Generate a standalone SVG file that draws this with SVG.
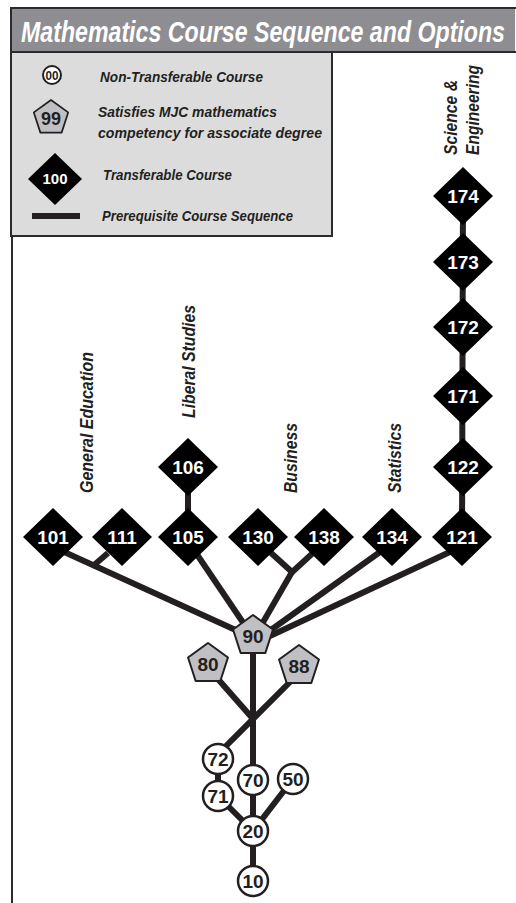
<svg xmlns="http://www.w3.org/2000/svg" xmlns:xlink="http://www.w3.org/1999/xlink" width="516" height="903" viewBox="0 0 516 903">
<style>
.lbl{font-family:"Liberation Sans",Arial,sans-serif;font-weight:bold;font-style:italic;fill:#231f20}
.dt{font-family:"Liberation Sans",Arial,sans-serif;font-weight:bold;fill:#fff;font-size:19px;text-anchor:middle}
.nt{font-family:"Liberation Sans",Arial,sans-serif;font-weight:bold;fill:#231f20;font-size:19px;text-anchor:middle}
.dia{fill:#000}
.pent{fill:#c0c0c4;stroke:#231f20;stroke-width:2;stroke-linejoin:round}
.circ{fill:#fff;stroke:#231f20;stroke-width:2.5}
.ln{stroke:#231f20;stroke-width:6;fill:none;stroke-linecap:butt}
</style>
<defs>
<path id="dia" d="M0,-29 L30,0 L0,29 L-30,0 Z"/>
<path id="pent" d="M0,-21 L19.97,-6.49 L12.34,16.99 L-12.34,16.99 L-19.97,-6.49 Z"/>
</defs>
<rect width="516" height="903" fill="#fff"/>
<g id="frame">
<rect x="11" y="8" width="504" height="44" fill="#8e8d92"/>
<path d="M516,8 H11 V52 H516" fill="none" stroke="#2b2b2b" stroke-width="2"/>
<text x="21" y="42" font-family="'Liberation Sans',Arial,sans-serif" font-weight="bold" font-style="italic" font-size="29" fill="#fff" textLength="484" lengthAdjust="spacingAndGlyphs">Mathematics Course Sequence and Options</text>
<rect x="11" y="52" width="321" height="184" fill="#dcdcdd" stroke="#2b2b2b" stroke-width="2"/>
<line x1="12" y1="236" x2="12" y2="903" stroke="#2b2b2b" stroke-width="2"/>
</g>
<g id="legend">
<circle cx="52" cy="75" r="9" fill="#fff" stroke="#231f20" stroke-width="2"/>
<text x="52" y="79.5" font-family="'Liberation Sans',Arial,sans-serif" font-weight="bold" font-size="12" text-anchor="middle" fill="#231f20" textLength="13" lengthAdjust="spacingAndGlyphs">00</text>
<text class="lbl" x="100" y="82" font-size="14.5" textLength="163" lengthAdjust="spacingAndGlyphs">Non-Transferable Course</text>
<path class="pent" transform="translate(51,118) scale(0.86)" d="M0,-21 L19.97,-6.49 L12.34,16.99 L-12.34,16.99 L-19.97,-6.49 Z"/>
<text x="51" y="125" font-family="'Liberation Sans',Arial,sans-serif" font-weight="bold" font-size="18" text-anchor="middle" fill="#231f20">99</text>
<text class="lbl" x="98" y="117" font-size="14.5" textLength="179" lengthAdjust="spacingAndGlyphs">Satisfies MJC mathematics</text>
<text class="lbl" x="98" y="138" font-size="14.5" textLength="224" lengthAdjust="spacingAndGlyphs">competency for associate degree</text>
<path d="M55,153 L82,179 L55,205 L28,179 Z" fill="#000"/>
<text x="55" y="184" font-family="'Liberation Sans',Arial,sans-serif" font-weight="bold" font-size="15" text-anchor="middle" fill="#fff">100</text>
<text class="lbl" x="103" y="180" font-size="14.5" textLength="129" lengthAdjust="spacingAndGlyphs">Transferable Course</text>
<rect x="32" y="213" width="48" height="6" fill="#231f20"/>
<text class="lbl" x="102" y="221" font-size="14.5" textLength="191" lengthAdjust="spacingAndGlyphs">Prerequisite Course Sequence</text>
</g>
<g id="labels">
<text class="lbl" font-size="18" transform="translate(93,493) rotate(-90)" textLength="141" lengthAdjust="spacingAndGlyphs">General Education</text>
<text class="lbl" font-size="18" transform="translate(195,418) rotate(-90)" textLength="113" lengthAdjust="spacingAndGlyphs">Liberal Studies</text>
<text class="lbl" font-size="18" transform="translate(297,493) rotate(-90)" textLength="70" lengthAdjust="spacingAndGlyphs">Business</text>
<text class="lbl" font-size="18" transform="translate(401,493) rotate(-90)" textLength="70" lengthAdjust="spacingAndGlyphs">Statistics</text>
<text class="lbl" font-size="18" transform="translate(457,155) rotate(-90)" textLength="75" lengthAdjust="spacingAndGlyphs">Science &amp;</text>
<text class="lbl" font-size="18" transform="translate(479,155) rotate(-90)" textLength="90" lengthAdjust="spacingAndGlyphs">Engineering</text>
</g>
<g id="connectors">
<line class="ln" x1="463" y1="196" x2="462" y2="537"/>
<line class="ln" x1="188" y1="467" x2="188" y2="537" stroke-width="5"/>
<line class="ln" x1="62" y1="551" x2="240" y2="632"/>
<line class="ln" x1="108" y1="553" x2="93" y2="566"/>
<line class="ln" x1="196" y1="553" x2="244" y2="624"/>
<line class="ln" x1="270" y1="552" x2="292" y2="572"/>
<line class="ln" x1="314" y1="552" x2="290" y2="574"/>
<line class="ln" x1="292" y1="572" x2="262" y2="624"/>
<line class="ln" x1="380" y1="552" x2="268" y2="632"/>
<line class="ln" x1="452" y1="551" x2="270" y2="636"/>
<line class="ln" x1="253" y1="640" x2="253" y2="831"/>
<line class="ln" x1="210" y1="670" x2="254" y2="720"/>
<line class="ln" x1="296" y1="676" x2="220" y2="752"/>
<line class="ln" x1="218" y1="759" x2="218" y2="796"/>
<line class="ln" x1="218" y1="796" x2="253" y2="831"/>
<line class="ln" x1="293" y1="779" x2="253" y2="831"/>
<line class="ln" x1="253" y1="831" x2="253" y2="881"/>
</g>
<g id="n174"><use xlink:href="#dia" class="dia" x="463" y="196"/><text class="dt" x="463" y="203">174</text></g>
<g id="n173"><use xlink:href="#dia" class="dia" x="463" y="262"/><text class="dt" x="463" y="269">173</text></g>
<g id="n172"><use xlink:href="#dia" class="dia" x="463" y="327"/><text class="dt" x="463" y="334">172</text></g>
<g id="n171"><use xlink:href="#dia" class="dia" x="463" y="396"/><text class="dt" x="463" y="403">171</text></g>
<g id="n122"><use xlink:href="#dia" class="dia" x="463" y="467"/><text class="dt" x="463" y="474">122</text></g>
<g id="n106"><use xlink:href="#dia" class="dia" x="188" y="467"/><text class="dt" x="188" y="474">106</text></g>
<g id="n101"><use xlink:href="#dia" class="dia" x="53" y="537"/><text class="dt" x="53" y="544">101</text></g>
<g id="n111"><use xlink:href="#dia" class="dia" x="122" y="537"/><text class="dt" x="122" y="544">111</text></g>
<g id="n105"><use xlink:href="#dia" class="dia" x="188" y="537"/><text class="dt" x="188" y="544">105</text></g>
<g id="n130"><use xlink:href="#dia" class="dia" x="258" y="537"/><text class="dt" x="258" y="544">130</text></g>
<g id="n138"><use xlink:href="#dia" class="dia" x="324" y="537"/><text class="dt" x="324" y="544">138</text></g>
<g id="n134"><use xlink:href="#dia" class="dia" x="392" y="537"/><text class="dt" x="392" y="544">134</text></g>
<g id="n121"><use xlink:href="#dia" class="dia" x="462" y="537"/><text class="dt" x="462" y="544">121</text></g>
<g id="n90"><use xlink:href="#pent" class="pent" x="253" y="636"/><text class="nt" x="253" y="643">90</text></g>
<g id="n80"><use xlink:href="#pent" class="pent" x="208" y="664"/><text class="nt" x="208" y="671">80</text></g>
<g id="n88"><use xlink:href="#pent" class="pent" x="299" y="666"/><text class="nt" x="299" y="673">88</text></g>
<g id="n72"><circle class="circ" cx="218" cy="759" r="15"/><text class="nt" x="218" y="766">72</text></g>
<g id="n71"><circle class="circ" cx="218" cy="796" r="15"/><text class="nt" x="218" y="803">71</text></g>
<g id="n70"><circle class="circ" cx="253" cy="780" r="15"/><text class="nt" x="253" y="787">70</text></g>
<g id="n50"><circle class="circ" cx="293" cy="779" r="15"/><text class="nt" x="293" y="786">50</text></g>
<g id="n20"><circle class="circ" cx="253" cy="831" r="15"/><text class="nt" x="253" y="838">20</text></g>
<g id="n10"><circle class="circ" cx="253" cy="881" r="15"/><text class="nt" x="253" y="888">10</text></g>
</svg>
